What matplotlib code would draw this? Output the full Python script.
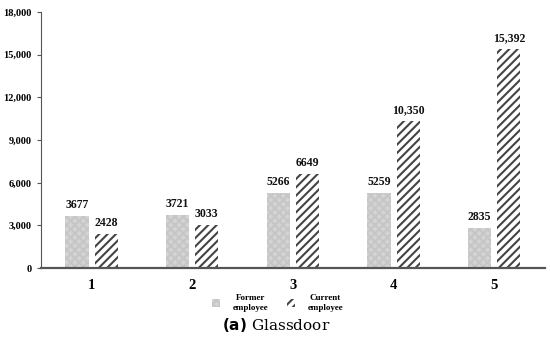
import numpy as np
import matplotlib
matplotlib.use("Agg")
import matplotlib.pyplot as plt
from matplotlib.ticker import FuncFormatter

categories = ["1", "2", "3", "4", "5"]
former = [3677, 3721, 5266, 5259, 2835]
current = [2428, 3033, 6649, 10350, 15392]
former_labels = ["3677", "3721", "5266", "5259", "2835"]
current_labels = ["2428", "3033", "6649", "10,350", "15,392"]

plt.rcParams['font.family'] = ['Liberation Serif']
plt.rcParams['hatch.linewidth'] = 1.5

fig = plt.figure(figsize=(5.5, 3.46), dpi=100)
ax = fig.add_axes([0.075, 0.225, 0.915, 0.74])

x = np.arange(1, len(categories) + 1)
w = 0.23
b1 = ax.bar(x - 0.145, former, w, color='#d4d4d4', edgecolor='#c6c6c6', hatch='xxxx', linewidth=0)
b2 = ax.bar(x + 0.145, current, w, color='white', edgecolor='#444444', hatch='////', linewidth=0)

for rect, lab in zip(b1, former_labels):
    ax.text(rect.get_x() + rect.get_width() / 2, rect.get_height() + 350, lab,
            ha='center', va='bottom', fontsize=8.5, fontweight='bold', color='#111111')
for rect, lab in zip(b2, current_labels):
    ax.text(rect.get_x() + rect.get_width() / 2, rect.get_height() + 350, lab,
            ha='center', va='bottom', fontsize=8.5, fontweight='bold', color='#111111')

ax.set_xlim(0.5, 5.5)
ax.set_ylim(0, 18000)
ax.set_yticks(np.arange(0, 18001, 3000))
ax.yaxis.set_major_formatter(FuncFormatter(lambda v, p: f"{int(v):,}"))
ax.set_xticks(x)
ax.set_xticklabels(categories, fontsize=10.5, fontweight='bold')
ax.tick_params(axis='x', length=0, pad=8)
ax.tick_params(axis='y', length=3, width=0.8, color='#555555', labelsize=7.5, pad=4)
for t in ax.get_yticklabels():
    t.set_fontweight('bold')
for s in ['top', 'right']:
    ax.spines[s].set_visible(False)
ax.spines['left'].set_color('#555555')
ax.spines['left'].set_linewidth(0.8)
ax.spines['bottom'].set_color('#555555')
ax.spines['bottom'].set_linewidth(1.6)

leg = fig.legend([b1, b2], ["Former\nemployee", "Current\nemployee"], loc='center',
                 bbox_to_anchor=(0.505, 0.124), ncol=2, frameon=False,
                 prop={'size': 6.5, 'weight': 'bold'}, handlelength=0.9,
                 handleheight=0.9, columnspacing=2.0, handletextpad=1.4)
for t in leg.get_texts():
    t.set_multialignment('center')

fig.text(0.503, 0.06, r"$\mathbf{(a)}$ Glassdoor", ha='center', va='center',
         fontsize=11, family='DejaVu Serif')

fig.savefig("out.png", dpi=100)
